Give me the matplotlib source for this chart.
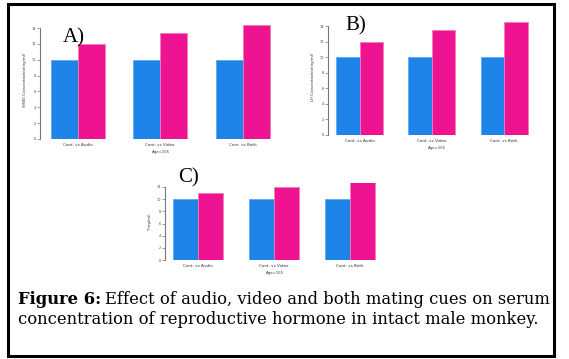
import matplotlib
matplotlib.use("Agg")
import matplotlib.pyplot as plt
from matplotlib.patches import Rectangle

categories = ["Cont. vs Audio", "Cont. vs Video", "Cont. vs Both"]

a_control = [10, 10, 10]
a_treated = [12, 13.4, 14.4]
b_control = [10, 10, 10]
b_treated = [12, 13.5, 14.5]
c_control = [10, 10, 10]
c_treated = [11, 12, 13.4]

a_yticks = [0, 2, 4, 6, 8, 10, 12, 14]
b_yticks = [0, 2, 4, 6, 8, 10, 12, 14]
c_yticks = [0, 2, 4, 6, 8, 10, 12]

a_ylabel = "SHBG Concentration(ng/ml)"
b_ylabel = "LH Concentration(ng/ml)"
c_ylabel = "T(ng/ml)"
xlabel = "Age=155"

caption_bold = "Figure 6:"
caption_line1 = "Effect of audio, video and both mating cues on serum"
caption_line2 = "concentration of reproductive hormone in intact male monkey."

BLUE = "#1e84ea"
PINK = "#ee1390"
W, H = 569, 359
CAP_FONT = "DejaVu Serif"

fig = plt.figure(figsize=(W / 100, H / 100), dpi=100)


def panel(ctrl, trt, yticks, ylabel, label, axis_px, centers_px, bw_px,
          y0_px, ytop_px, right_px, label_xy, fs_label):
    scale = centers_px[1] - centers_px[0]
    c0 = centers_px[0]
    xl = (axis_px - c0) / scale
    xr = (right_px - c0) / scale
    ppu = (y0_px - ytop_px) / yticks[-1]
    ymax = yticks[-1] * 1.06
    top_px = y0_px - ymax * ppu
    ax = fig.add_axes([axis_px / W, 1 - y0_px / H, (right_px - axis_px) / W,
                       (y0_px - top_px) / H])
    ax.set_xlim(xl, xr)
    ax.set_ylim(0, ymax)
    bw = bw_px / scale
    xs = list(range(len(categories)))
    ax.bar([x - bw / 2 for x in xs], ctrl, width=bw, color=BLUE,
           edgecolor="#5aa8f0", linewidth=0.6)
    ax.bar([x + bw / 2 for x in xs], trt, width=bw, color=PINK,
           edgecolor="#f47ab8", linewidth=0.6)
    for s in ["top", "right", "bottom"]:
        ax.spines[s].set_visible(False)
    ax.spines["left"].set_color("#777777")
    ax.spines["left"].set_linewidth(0.8)
    ax.spines["left"].set_bounds(0, yticks[-1])
    ax.set_yticks(yticks)
    ax.set_yticklabels([str(t) for t in yticks], fontsize=2.5, color="#444444")
    ax.tick_params(axis="y", length=2, width=0.5, color="#777777", pad=1)
    ax.set_xticks(xs)
    ax.set_xticklabels(categories, fontsize=3, color="#333333")
    ax.tick_params(axis="x", length=0, pad=3)
    ax.set_xlabel(xlabel, fontsize=2.8, color="#333333", labelpad=2)
    ax.set_ylabel(ylabel, fontsize=2.8, color="#333333", labelpad=3)
    fig.text(label_xy[0] / W, 1 - label_xy[1] / H, label, fontsize=fs_label,
             family="Liberation Serif", ha="left", va="center")
    return ax


panel(a_control, a_treated, a_yticks, a_ylabel, "A)", 40, [77.5, 160, 242], 27,
      139, 28, 282, (63, 38), 15)
panel(b_control, b_treated, b_yticks, b_ylabel, "B)", 328, [360, 432, 504], 23.5,
      135, 26, 545, (345, 26), 15)
panel(c_control, c_treated, c_yticks, c_ylabel, "C)", 165, [198, 274, 349], 25,
      260, 187, 385, (178, 178), 15)

# caption
fig.canvas.draw()
r = fig.canvas.get_renderer()
fs = 10
x_start = 18 / W
t1 = fig.text(x_start, 1 - 299 / H, caption_bold, fontsize=fs, weight="bold",
              family=CAP_FONT, va="center", ha="left")
bb = t1.get_window_extent(r)
t2 = fig.text((bb.x1 + 4) / W, 1 - 299 / H, caption_line1, fontsize=fs,
              family=CAP_FONT, va="center", ha="left")
bb2 = t2.get_window_extent(r)
target = 553 - 18
cur = bb2.x1 - bb.x0
fs2 = fs * target / cur
t1.set_fontsize(fs2)
t2.set_fontsize(fs2)
fig.canvas.draw()
bb = t1.get_window_extent(r)
t2.set_x((bb.x1 + 4) / W)
fig.text(x_start, 1 - 320 / H, caption_line2, fontsize=fs2,
         family=CAP_FONT, va="center", ha="left")

fig.add_artist(Rectangle((7.5 / W, 1 - 355.5 / H), (554 - 7.5) / W,
                         (355.5 - 3.5) / H, transform=fig.transFigure,
                         fill=False, edgecolor="black", linewidth=2.2))

fig.savefig("out.png", dpi=100)
